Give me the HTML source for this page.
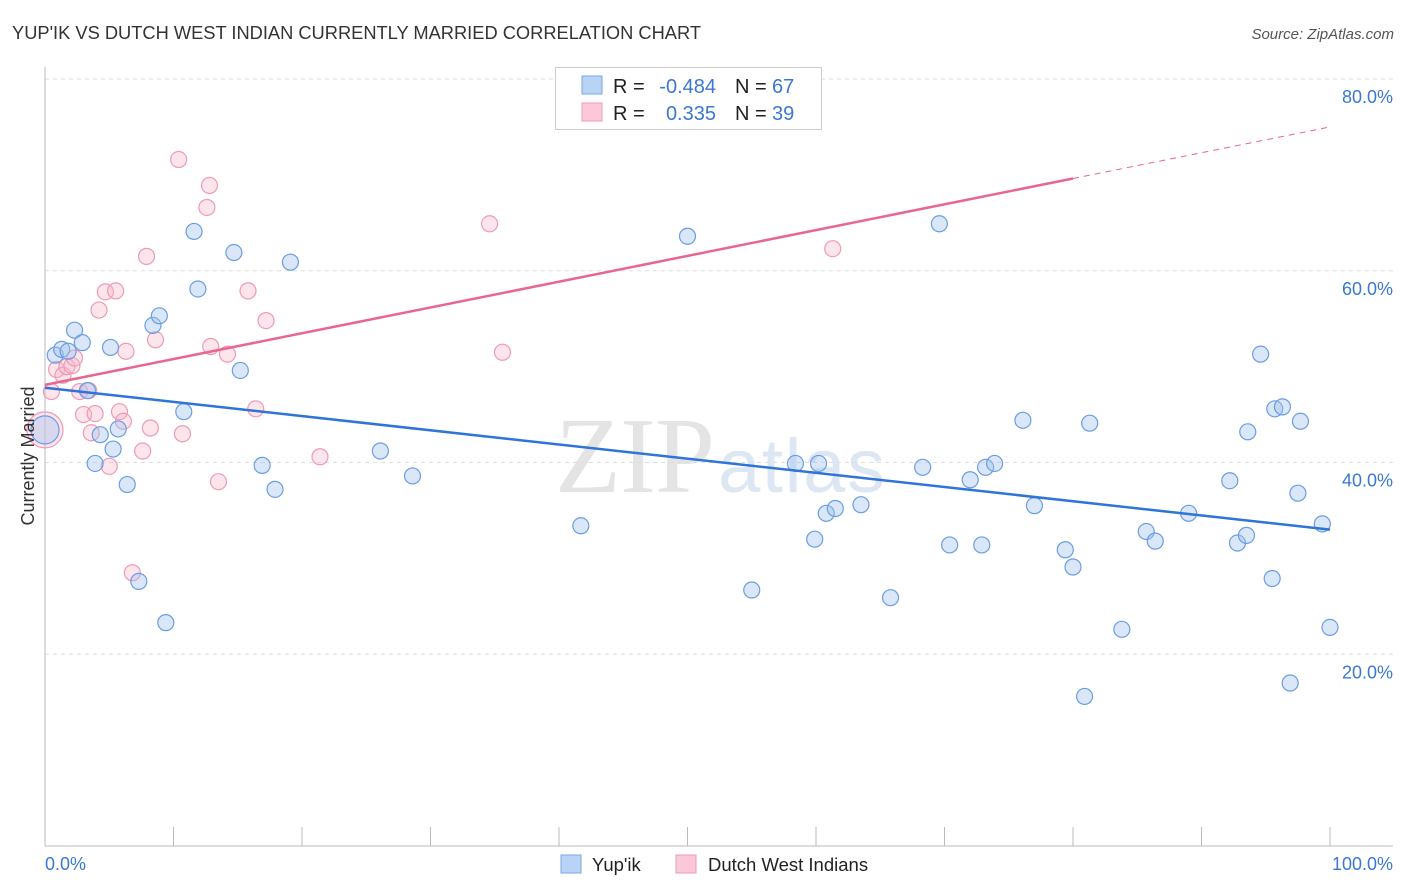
<!DOCTYPE html>
<html><head><meta charset="utf-8"><style>
body{margin:0;background:#fff;font-family:"Liberation Sans",sans-serif;}
svg{display:block}
</style></head><body>
<svg id="c" width="1406" height="892" xmlns="http://www.w3.org/2000/svg">
<text x="12" y="39" font-size="18.3" fill="#333" textLength="689">YUP'IK VS DUTCH WEST INDIAN CURRENTLY MARRIED CORRELATION CHART</text>
<text x="1394" y="39" font-size="15" fill="#555" font-style="italic" text-anchor="end">Source: ZipAtlas.com</text>
<text x="555" y="492" font-size="108" fill="#e4e4e4" textLength="160" font-family="Liberation Serif,serif">ZIP</text>
<text x="718" y="492" font-size="76" fill="#dde6f3" textLength="167">atlas</text>
<g id="grid"></g>
<g id="axes"></g>
<g id="pts"></g>
<g id="trend"></g>
<text transform="translate(34,456) rotate(-90)" font-size="18" fill="#333" text-anchor="middle">Currently Married</text>
<text x="45" y="870" font-size="18" fill="#3a78d4">0.0%</text>
<text x="1393" y="870" font-size="18" fill="#3a78d4" text-anchor="end">100.0%</text>
<g>
<rect x="555.5" y="67.5" width="266" height="62" fill="#fff" stroke="#ccc"/>
<rect x="582" y="76" width="20" height="18" fill="#b9d3f5" stroke="#7aa6e6"/>
<rect x="582" y="103" width="20" height="18" fill="#fbc8d7" stroke="#ef9ab4"/>
<text x="613" y="93" font-size="20" fill="#222">R =</text>
<text x="716" y="93" font-size="20" fill="#3a78d4" text-anchor="end">-0.484</text>
<text x="735" y="93" font-size="20" fill="#222">N =</text>
<text x="772" y="93" font-size="20" fill="#3a78d4">67</text>
<text x="613" y="120" font-size="20" fill="#222">R =</text>
<text x="716" y="120" font-size="20" fill="#3a78d4" text-anchor="end">0.335</text>
<text x="735" y="120" font-size="20" fill="#222">N =</text>
<text x="772" y="120" font-size="20" fill="#3a78d4">39</text>
</g>
<g>
<rect x="561" y="855" width="20" height="18" fill="#b9d3f5" stroke="#7aa6e6"/>
<text x="592" y="871" font-size="18.5" fill="#222">Yup'ik</text>
<rect x="676" y="855" width="20" height="18" fill="#fbc8d7" stroke="#ef9ab4"/>
<text x="708" y="871" font-size="18.5" fill="#222">Dutch West Indians</text>
</g>
</svg>
<script>
const yTicks=[20,40,60,80];
const yTickLabels=["20.0%","40.0%","60.0%","80.0%"];
const xTicks=[0,10,20,30,40,50,60,70,80,90,100];
const blueX=[0.8,1.3,2.3,1.8,2.9,5.1,3.3,4.3,3.9,5.3,5.7,6.4,7.3,8.4,8.9,9.4,10.8,11.6,11.9,14.7,15.2,16.9,17.9,19.1,26.1,28.6,41.7,50.0,55.0,58.4,59.9,60.2,60.8,61.5,63.5,65.8,68.3,69.6,70.4,72.0,72.9,73.2,73.9,76.1,77.0,79.4,80.0,80.9,81.3,83.8,85.7,86.4,89.0,92.2,92.8,93.5,93.6,94.6,95.5,95.7,96.3,96.9,97.5,97.7,99.4,100.0,0.0];
const blueY=[51.2,51.8,53.8,51.6,52.5,52.0,47.5,42.9,39.9,41.4,43.5,37.7,27.6,54.3,55.3,23.3,45.3,64.1,58.1,61.9,49.6,39.7,37.2,60.9,41.2,38.6,33.4,63.6,26.7,39.9,32.0,39.9,34.7,35.2,35.6,25.9,39.5,64.9,31.4,38.2,31.4,39.5,39.9,44.4,35.5,30.9,29.1,15.6,44.1,22.6,32.8,31.8,34.7,38.1,31.6,32.4,43.2,51.3,27.9,45.6,45.8,17.0,36.8,44.3,33.6,22.8,43.4];
const pinkX=[0.5,0.9,1.4,1.7,2.1,2.3,2.7,3.0,3.6,3.9,5.0,4.7,5.5,4.2,5.8,6.1,6.3,6.8,7.6,7.9,8.2,8.6,10.4,10.7,12.6,12.8,12.9,13.5,14.2,15.8,16.4,17.2,21.4,34.6,35.6,61.3,0.0,3.4];
const pinkY=[47.4,49.7,49.1,50.0,50.1,50.9,47.4,45.0,43.1,45.1,39.6,57.8,57.9,55.9,45.3,44.3,51.6,28.5,41.2,61.5,43.6,52.8,71.6,43.0,66.6,68.9,52.1,38.0,51.3,57.9,45.6,54.8,40.6,64.9,51.5,62.3,43.4,47.5];
const blueTrend=[47.8,33.0];
const pinkTrend=[48.1,75.0];
const pinkSolidEnd=80;
const X0=45,X1=1330,Y0=846,YS=191.75/20;
const sx=v=>X0+(X1-X0)*v/100, sy=v=>Y0-v*YS;
const NS="http://www.w3.org/2000/svg";
function mk(t,a,p){const e=document.createElementNS(NS,t);for(const k in a)e.setAttribute(k,a[k]);p.appendChild(e);return e;}
const grid=document.getElementById('grid'),axes=document.getElementById('axes'),pts=document.getElementById('pts'),trend=document.getElementById('trend');
yTicks.forEach((t,i)=>{
 const l=mk('line',{x1:45,x2:1393,y1:sy(t),y2:sy(t),stroke:'#ddd','stroke-dasharray':'4,4'},grid);
 
 
 const tx=mk('text',{x:1393,y:sy(t)+24,'font-size':18,fill:'#3a78d4','text-anchor':'end'},grid);
 tx.textContent=yTickLabels[i];
 
 
});
const ax=mk('line',{x1:45,x2:1393,y1:846,y2:846,stroke:'#bbb'},axes);


const ay=mk('line',{x1:45,x2:45,y1:67,y2:846,stroke:'#bbb'},axes);


xTicks.forEach(t=>{
 const l=mk('line',{x1:sx(t),x2:sx(t),y1:827,y2:846,stroke:'#bbb'},axes);
 
 
});
function dots(X,Y,fill,stroke,name){
 X.forEach((x,i)=>{
  const big=(x===0);
  const c=mk('circle',{cx:sx(x),cy:sy(Y[i]),r:big?(name==='dutch-point'?18:14):8,fill:fill,stroke:stroke,'stroke-width':1.2},pts);
  
  
 });
}
dots(pinkX,pinkY,'rgba(248,180,200,0.35)','#ef9ab4','dutch-point');
dots(blueX,blueY,'rgba(160,195,240,0.4)','#6b9de3','yupik-point');
const bl=mk('line',{x1:sx(0),y1:sy(blueTrend[0]),x2:sx(100),y2:sy(blueTrend[1]),stroke:'#2f74d6','stroke-width':2.5},trend);


const pm=pinkTrend[0]+(pinkTrend[1]-pinkTrend[0])*pinkSolidEnd/100;
const pl=mk('line',{x1:sx(0),y1:sy(pinkTrend[0]),x2:sx(pinkSolidEnd),y2:sy(pm),stroke:'#e8668f','stroke-width':2.5},trend);


const pd=mk('line',{x1:sx(pinkSolidEnd),y1:sy(pm),x2:sx(100),y2:sy(pinkTrend[1]),stroke:'#e8668f','stroke-width':1,'stroke-dasharray':'6,5'},trend);


</script>
</body></html>
